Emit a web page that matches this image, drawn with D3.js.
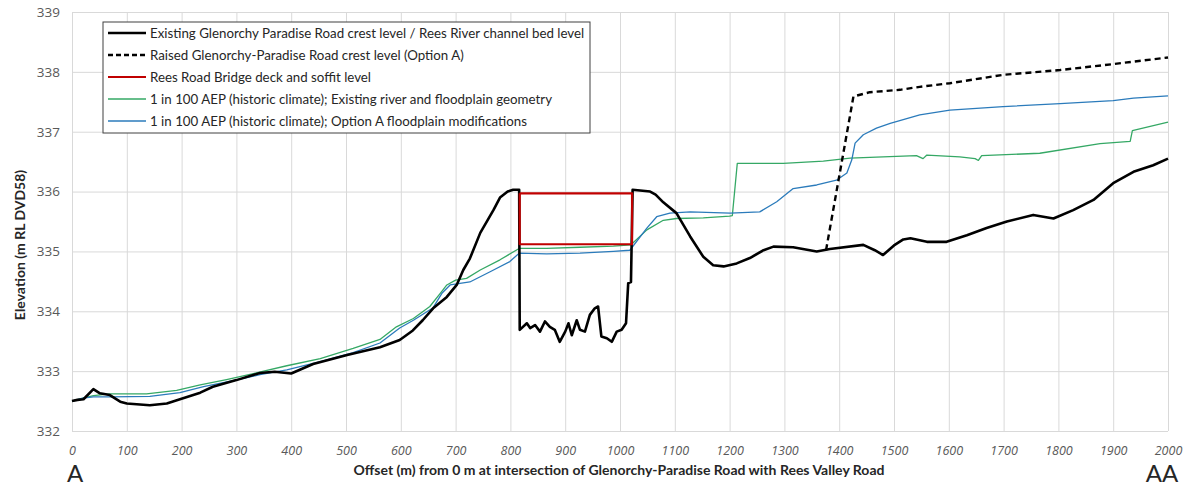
<!DOCTYPE html>
<html>
<head>
<meta charset="utf-8">
<script src="https://cdn.jsdelivr.net/npm/d3@7"></script>
<style>
  html, body { margin: 0; padding: 0; background: #fff; }
  svg { display: block; }
</style>
</head>
<body>
<div id="chart"></div>
<script>
// ---- data (offset m, elevation m RL DVD58) ----
const xTicks = d3.range(0, 2001, 100);
const yTicks = d3.range(332, 340, 1);

const existingRoad = [
  [0, 332.50], [10, 332.52], [21, 332.53], [39, 332.70], [51, 332.63], [69, 332.60], [88, 332.49],
  [100, 332.46], [142, 332.43], [173, 332.46], [197, 332.53], [234, 332.64], [257, 332.74],
  [300, 332.85], [343, 332.97], [370, 332.99], [400, 332.96], [440, 333.12], [502, 333.27],
  [562, 333.40], [598, 333.52], [622, 333.68], [640, 333.85], [659, 334.05], [684, 334.24],
  [702, 334.44], [714, 334.69], [726, 334.88], [745, 335.31], [769, 335.69], [781, 335.90],
  [795, 336.00], [805, 336.03], [816, 336.03], [817, 333.69], [830, 333.80], [836, 333.72],
  [845, 333.77], [854, 333.66], [863, 333.83], [872, 333.74], [881, 333.69], [890, 333.49],
  [900, 333.66], [906, 333.80], [912, 333.60], [921, 333.85], [927, 333.69], [936, 333.66],
  [945, 333.94], [954, 334.05], [960, 334.08], [966, 333.58], [976, 333.55], [985, 333.49],
  [994, 333.66], [1003, 333.69], [1011, 333.80], [1015, 334.47], [1020, 334.49], [1023, 336.03],
  [1055, 336.00], [1065, 335.95], [1079, 335.82], [1103, 335.64], [1128, 335.25], [1152, 334.91],
  [1170, 334.77], [1189, 334.75], [1213, 334.80], [1237, 334.89], [1262, 335.02], [1280, 335.08],
  [1316, 335.07], [1359, 335.00], [1383, 335.04], [1444, 335.11], [1465, 335.02], [1480, 334.94],
  [1500, 335.10], [1517, 335.20], [1530, 335.22], [1560, 335.16], [1596, 335.16], [1633, 335.27],
  [1669, 335.39], [1706, 335.50], [1754, 335.61], [1791, 335.55], [1827, 335.69], [1864, 335.86],
  [1900, 336.14], [1937, 336.33], [1973, 336.44], [2000, 336.55]
];

const raisedRoad = [
  [1376, 335.02], [1426, 337.59], [1456, 337.66], [1511, 337.70], [1547, 337.75], [1602, 337.81],
  [1699, 337.95], [1803, 338.03], [1900, 338.13], [2000, 338.24]
];

const bridgeOutline = [
  [817, 335.97], [1022, 335.97], [1022, 335.12], [817, 335.12], [817, 335.97]
];

const aepExisting = [
  [0, 332.50], [20, 332.55], [39, 332.59], [69, 332.62], [136, 332.62], [191, 332.68], [234, 332.77],
  [282, 332.86], [331, 332.96], [392, 333.09], [453, 333.21], [513, 333.38], [562, 333.53],
  [592, 333.74], [623, 333.88], [653, 334.08], [672, 334.30], [684, 334.44], [700, 334.52],
  [720, 334.55], [745, 334.69], [781, 334.86], [816, 335.05], [866, 335.05], [927, 335.07],
  [988, 335.09], [1020, 335.11], [1049, 335.36], [1079, 335.52], [1103, 335.55], [1152, 335.56],
  [1200, 335.59], [1205, 335.60], [1214, 336.47], [1298, 336.47], [1371, 336.51], [1420, 336.56],
  [1480, 336.58], [1541, 336.60], [1553, 336.55], [1560, 336.61], [1620, 336.58], [1648, 336.55],
  [1654, 336.52], [1660, 336.60], [1766, 336.64], [1876, 336.80], [1931, 336.84], [1935, 337.02],
  [2000, 337.16]
];

const aepOptionA = [
  [0, 332.50], [20, 332.55], [39, 332.57], [69, 332.57], [142, 332.58], [197, 332.64], [240, 332.74],
  [294, 332.84], [343, 332.94], [392, 333.02], [453, 333.16], [513, 333.31], [562, 333.47],
  [598, 333.72], [623, 333.85], [659, 334.06], [675, 334.30], [690, 334.44], [726, 334.49],
  [763, 334.66], [799, 334.83], [816, 334.97], [866, 334.96], [927, 334.97], [988, 335.00],
  [1018, 335.02], [1049, 335.39], [1067, 335.58], [1091, 335.64], [1128, 335.66], [1201, 335.64],
  [1255, 335.66], [1286, 335.83], [1316, 336.05], [1359, 336.11], [1395, 336.19], [1414, 336.31],
  [1423, 336.53], [1429, 336.81], [1444, 336.95], [1468, 337.06], [1493, 337.14], [1547, 337.28],
  [1602, 337.36], [1699, 337.42], [1803, 337.47], [1900, 337.52], [1937, 337.56], [2000, 337.60]
];

const legendLabels = [
  'Existing Glenorchy Paradise Road crest level / Rees River channel bed level',
  'Raised Glenorchy-Paradise Road crest level (Option A)',
  'Rees Road Bridge deck and soffit level',
  '1 in 100 AEP (historic climate); Existing river and floodplain geometry',
  '1 in 100 AEP (historic climate); Option A floodplain modifications'
];

// ---- styling ----
const W = 1190, H = 486;
const margin = { top: 12, right: 22, bottom: 55, left: 72 };
const w = W - margin.left - margin.right;
const h = H - margin.top - margin.bottom;

const STYLES = [
  { color: '#000000', width: 2.6, dash: null },
  { color: '#000000', width: 2.4, dash: '6,4' },
  { color: '#C00000', width: 2.2, dash: null },
  { color: '#35a865', width: 1.3, dash: null },
  { color: '#2b7bbb', width: 1.3, dash: null }
];

const svg = d3.select('#chart').append('svg')
  .attr('width', W)
  .attr('height', H);

const g = svg.append('g').attr('transform', `translate(${margin.left},${margin.top})`);

const x = d3.scaleLinear().domain([0, 2000]).range([0, w]);
const y = d3.scaleLinear().domain([332, 339]).range([h, 0]);

// gridlines
g.append('g')
  .attr('transform', `translate(0,${h})`)
  .call(d3.axisBottom(x).tickValues(xTicks).tickSize(-h).tickFormat(''))
  .call(s => s.select('.domain').remove())
  .call(s => s.selectAll('line').attr('stroke', '#d9d9d9'));

g.append('g')
  .call(d3.axisLeft(y).tickValues(yTicks).tickSize(-w).tickFormat(''))
  .call(s => s.select('.domain').remove())
  .call(s => s.selectAll('line').attr('stroke', '#d9d9d9'));

// axis labels
g.append('g')
  .attr('transform', `translate(0,${h})`)
  .call(d3.axisBottom(x).tickValues(xTicks).tickSize(0).tickPadding(15).tickFormat(d3.format('d')))
  .call(s => s.select('.domain').remove())
  .call(s => s.selectAll('text')
    .attr('font-family', '"Open Sans", sans-serif')
    .attr('font-style', 'italic')
    .attr('font-size', 12.5)
    .attr('fill', '#595959'));

g.append('g')
  .call(d3.axisLeft(y).tickValues(yTicks).tickSize(0).tickPadding(12).tickFormat(d3.format('d')))
  .call(s => s.select('.domain').remove())
  .call(s => s.selectAll('text')
    .attr('font-family', '"Open Sans", sans-serif')
    .attr('font-size', 13.5)
    .attr('fill', '#595959'));

// axis titles
svg.append('text')
  .attr('x', 619)
  .attr('y', 475)
  .attr('text-anchor', 'middle')
  .attr('font-family', 'Lato, sans-serif')
  .attr('font-weight', 'bold')
  .attr('font-size', 14)
  .attr('fill', '#262626')
  .text('Offset (m) from 0 m at intersection of Glenorchy-Paradise Road with Rees Valley Road');

svg.append('text')
  .attr('transform', 'translate(20,245) rotate(-90)')
  .attr('text-anchor', 'middle')
  .attr('dy', '0.35em')
  .attr('font-family', 'Lato, sans-serif')
  .attr('font-weight', 'bold')
  .attr('font-size', 14)
  .attr('fill', '#262626')
  .text('Elevation (m RL DVD58)');

svg.append('text')
  .attr('x', 75).attr('y', 482)
  .attr('text-anchor', 'middle')
  .attr('font-family', 'Lato, sans-serif')
  .attr('font-size', 24)
  .attr('fill', '#262626')
  .text('A');

svg.append('text')
  .attr('x', 1162).attr('y', 482)
  .attr('text-anchor', 'middle')
  .attr('font-family', 'Lato, sans-serif')
  .attr('font-size', 24)
  .attr('fill', '#262626')
  .text('AA');

// series
const line = d3.line().x(d => x(d[0])).y(d => y(d[1]));
const series = [existingRoad, raisedRoad, bridgeOutline, aepExisting, aepOptionA];
const drawOrder = [3, 4, 0, 1, 2];

drawOrder.forEach(i => {
  const st = STYLES[i];
  const p = g.append('path')
    .datum(series[i])
    .attr('fill', 'none')
    .attr('stroke', st.color)
    .attr('stroke-width', st.width)
    .attr('stroke-linejoin', 'round')
    .attr('d', line);
  if (st.dash) p.attr('stroke-dasharray', st.dash);
});

// legend
const legend = svg.append('g').attr('transform', 'translate(103,22)');
legend.append('rect')
  .attr('width', 487)
  .attr('height', 111)
  .attr('fill', '#fff')
  .attr('stroke', '#404040')
  .attr('stroke-width', 1);

legendLabels.forEach((label, i) => {
  const st = STYLES[i];
  const ly = 11 + i * 22;
  const l = legend.append('line')
    .attr('x1', 5).attr('x2', 43)
    .attr('y1', ly).attr('y2', ly)
    .attr('stroke', st.color)
    .attr('stroke-width', Math.max(st.width, 1.3));
  if (st.dash) l.attr('stroke-dasharray', '5,3');
  legend.append('text')
    .attr('x', 47)
    .attr('y', ly)
    .attr('dy', '0.35em')
    .attr('font-family', 'Lato, sans-serif')
    .attr('font-size', 13.3)
    .attr('fill', '#262626')
    .text(label);
});
</script>
</body>
</html>
